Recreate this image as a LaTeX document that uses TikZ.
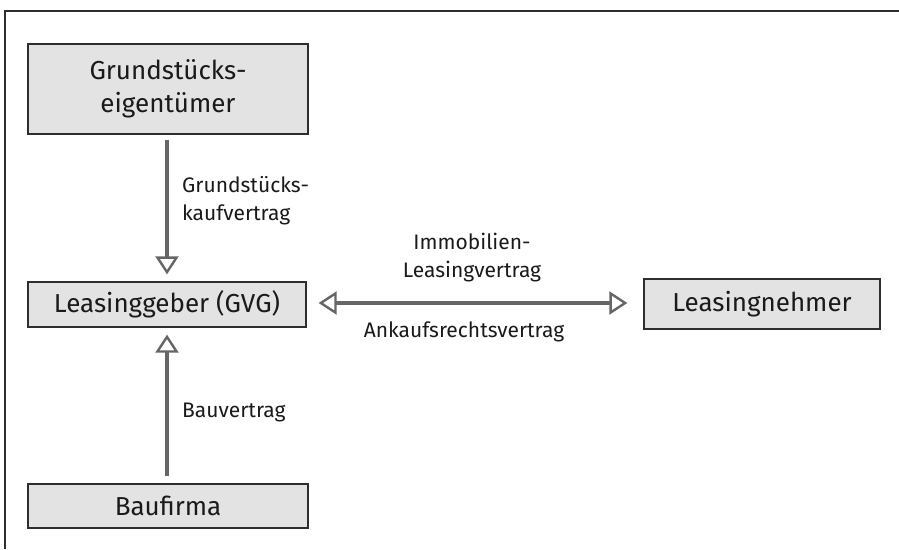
\documentclass[tikz,border=0pt]{standalone}
\usepackage{fontspec}
\setmainfont{Fira Sans}
\usetikzlibrary{arrows.meta}
\definecolor{boxfill}{HTML}{E3E3E4}
\definecolor{boxline}{HTML}{2E2E2E}
\definecolor{arrowgray}{HTML}{666666}
\definecolor{textcol}{HTML}{1A1A1A}
\tikzset{
  party/.style={draw=boxline, fill=boxfill, line width=1.3pt, inner sep=0pt,
    align=center, text=textcol, font=\fontsize{26}{33}\selectfont},
  contract/.style={draw=arrowgray, line width=3.5pt,
    -{Triangle[open, length=18pt, width=23pt, line width=2.4pt]}},
  contractboth/.style={draw=arrowgray, line width=3.5pt,
    {Triangle[open, length=18pt, width=23pt, line width=2.4pt]}-{Triangle[open, length=18pt, width=23pt, line width=2.4pt]}},
  caption/.style={inner sep=0pt, text=textcol, font=\fontsize{21}{28}\selectfont}
}
\begin{document}
\begin{tikzpicture}[x=1pt, y=-1pt]
  \useasboundingbox (0,0) rectangle (899,549);
  % frame lines along the top and left edge
  \draw[boxline, line width=1.4pt] (899,11) -- (5,11) -- (5,549);

  % parties
  \node[party, minimum width=280pt, minimum height=90pt] (owner) at (168,89) {Grundstücks-\\eigentümer};
  \node[party, minimum width=278pt, minimum height=45pt] (lessor) at (167,304.5) {Leasinggeber (GVG)};
  \node[party, minimum width=236pt, minimum height=50pt] (lessee) at (762,304) {Leasingnehmer};
  \node[party, minimum width=280pt, minimum height=44pt] (builder) at (168,506) {Baufirma};

  % contracts
  \draw[contract, shorten <=5pt, shorten >=7pt] (owner.south -| lessor.north) -- (lessor.north);
  \draw[contract, shorten <=7pt, shorten >=7pt] (builder.north -| lessor.south) -- (lessor.south);
  \coordinate (rightend) at (lessee.west |- 0,303);
  \coordinate (leftend) at (lessor.east |- 0,303);
  \draw[contractboth, shorten <=12pt, shorten >=16pt] (leftend) -- (rightend);

  % contract labels
  \node[caption, anchor=west, align=left] (lab1) at (182,201) {Grundstücks-\\kaufvertrag};
  \node[caption, align=center] (lab2) at (472,258) {Immobilien-\\Leasingvertrag};
  \node[caption] (lab3) at (464,332) {Ankaufsrechtsvertrag};
  \node[caption, anchor=west] (lab4) at (182,412) {Bauvertrag};
\end{tikzpicture}
\end{document}
